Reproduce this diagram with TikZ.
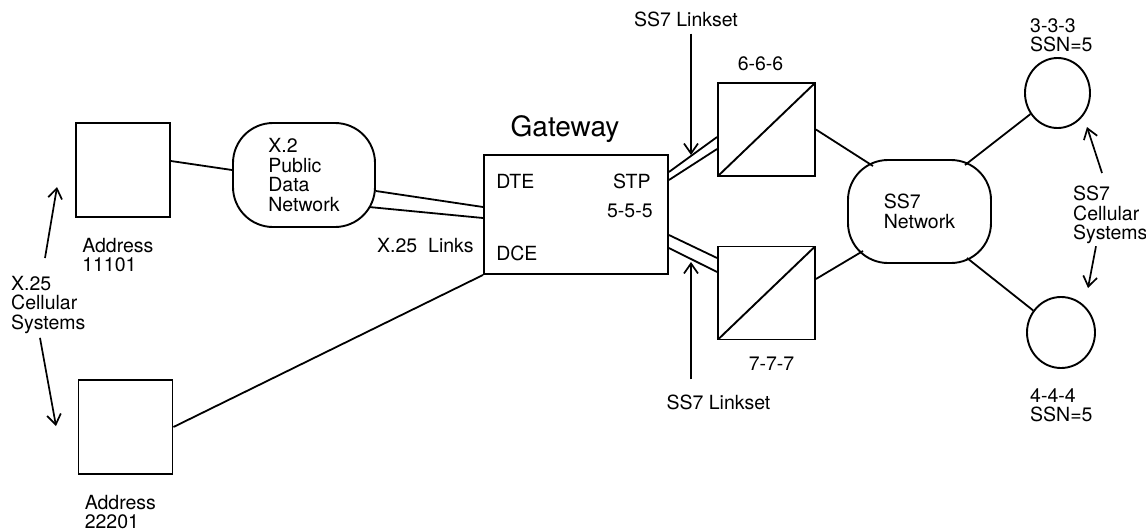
\documentclass[tikz,border=0pt]{standalone}
\usepackage{fontspec}
\setmainfont{TeX Gyre Heros}
\usetikzlibrary{shapes.geometric, arrows.meta, positioning, calc}

\begin{document}
\begin{tikzpicture}[
    x=1pt, y=-1pt,
    lbl/.style={font=\fontsize{19.5}{19.5}\selectfont, align=left, inner sep=0pt},
    term/.style={draw, line width=1.9pt, minimum size=94pt, inner sep=0pt},
    cloud/.style={draw, line width=1.9pt, rounded corners=40pt, minimum width=142pt, minimum height=104pt, inner sep=0pt, font=\fontsize{19.5}{19.5}\selectfont, align=left},
    gate/.style={draw, line width=1.9pt, minimum width=184pt, minimum height=119pt, inner sep=0pt},
    stp/.style={draw, line width=1.9pt, minimum width=97pt, minimum height=93pt, inner sep=0pt,
        path picture={\draw[line width=1.9pt] (path picture bounding box.south west) -- (path picture bounding box.north east);}},
    cell/.style={draw, ellipse, line width=1.9pt, inner sep=0pt},
    link/.style={line width=1.8pt},
    arrow/.style={-{Straight Barb[length=10pt, width=14pt]}, line width=1.7pt}
]
    \useasboundingbox (0,0) rectangle (1146,531);

    % X.25 side
    \node[term] (adr1) at (123,170) {};
    \node[term] (adr2) at (125.5,427) {};
    \node[lbl, below right=20pt and 7pt of adr1.south west] (adr1lbl) {Address\\11101};
    \node[lbl, below right=20pt and 7pt of adr2.south west] (adr2lbl) {Address\\22201};
    \node[lbl, anchor=north west] (x25lbl) at (11,276) {X.25\\Cellular\\Systems};
    \node[cloud] (pdn) at (304,175) {X.2\\Public\\Data\\Network};
    \node[lbl, anchor=west] (x25links) at (377,246) {X.25\ \ Links};

    % Gateway
    \node[gate] (gw) at (576,214.5) {};
    \node[lbl, font=\fontsize{28}{30}\selectfont, above=11pt of gw, xshift=-11pt] (gwlbl) {Gateway};
    \node[lbl, anchor=west] (dte) at ($(gw.north west)+(13,27)$) {DTE};
    \node[lbl, anchor=west] (stplbl) at ($(gw.north east)+(-56,27)$) {STP};
    \node[lbl, anchor=west] (pc5) at ($(gw.north east)+(-62,57)$) {5-5-5};
    \node[lbl, anchor=west] (dce) at ($(gw.south west)+(13,-22)$) {DCE};

    % STPs and linksets
    \node[stp] (stp6) at (766.5,129.5) {};
    \node[stp] (stp7) at (766.5,293) {};
    \node[lbl, above=11pt of stp6, xshift=-6pt] (pc6) {6-6-6};
    \node[lbl, below=16pt of stp7, xshift=5pt] (pc7) {7-7-7};
    \node[lbl] (ls1) at (686,19) {SS7 Linkset};
    \node[lbl] (ls2) at (718.5,402) {SS7 Linkset};

    % SS7 side
    \node[cloud, minimum width=143pt, minimum height=103pt] (net) at (919.5,211.5) {SS7\\Network};
    \node[cell, minimum width=65pt, minimum height=70pt] (c3) at (1057.5,93) {};
    \node[cell, minimum width=68pt, minimum height=71pt] (c4) at (1061,332.5) {};
    \node[lbl, anchor=north west] (c3lbl) at (1030,18) {3-3-3\\SSN=5};
    \node[lbl, anchor=north west] (c4lbl) at (1030,388) {4-4-4\\SSN=5};
    \node[lbl, anchor=north west] (ss7lbl) at (1073,186) {SS7\\Cellular\\Systems};

    % arrow tips
    \coordinate (x25up) at (57,187);
    \coordinate (x25dn) at (56,426);
    \coordinate (ls1tip) at (691,155);
    \coordinate (ls2tip) at (691,262);
    \coordinate (ss7up) at (1087,127);
    \coordinate (ss7dn) at (1088,288);

    % Links
    \draw[link] ($(adr1.east)+(0,-9)$) -- ($(pdn.west)+(0,-5)$);
    \draw[link] ($(pdn.east)+(0,16)$) -- ($(gw.west)+(0,-7.5)$);
    \draw[link] ($(pdn.east)+(-7,32)$) -- ($(gw.west)+(0,3.5)$);
    \draw[link] (adr2.east) -- (gw.south west);
    \draw[link] ($(gw.east)+(0,-42.5)$) -- ($(stp6.west)+(0,7.5)$);
    \draw[link] ($(gw.east)+(0,-34.5)$) -- ($(stp6.west)+(0,19.5)$);
    \draw[link] ($(gw.east)+(0,20.5)$) -- ($(stp7.west)+(0,-35)$);
    \draw[link] ($(gw.east)+(0,33.5)$) -- ($(stp7.west)+(0,-21)$);
    \draw[link] (stp6.east) -- ($(net.center)+(-46.5,-45.5)$);
    \draw[link] ($(stp7.east)+(0,-14)$) -- ($(net.center)+(-56.5,39.5)$);
    \draw[link] ($(net.center)+(45.5,-46.5)$) -- (c3);
    \draw[link] ($(net.center)+(47.5,46.5)$) -- (c4);

    % Arrows
    \draw[arrow] ($(x25lbl.north west)+(34,-18)$) -- (x25up);
    \draw[arrow] ($(x25lbl.south west)+(29,4)$) -- (x25dn);
    \draw[arrow] ($(ls1.south -| ls1tip)+(0,7)$) -- (ls1tip);
    \draw[arrow] ($(ls2.north -| ls2tip)+(0,-15)$) -- (ls2tip);
    \draw[arrow] ($(ss7lbl.north west)+(29,-13)$) -- (ss7up);
    \draw[arrow] ($(ss7lbl.south west)+(23,2)$) -- (ss7dn);
\end{tikzpicture}
\end{document}
